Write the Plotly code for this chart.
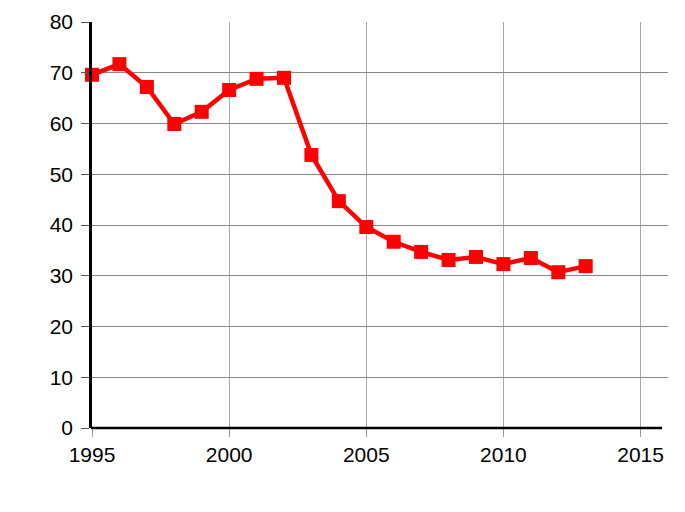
import plotly.graph_objects as go

years = list(range(1995, 2014))
values = [69.6, 71.7, 67.2, 59.9, 62.3, 66.6, 68.8, 69.0, 53.8, 44.7, 39.6, 36.7, 34.7, 33.1, 33.7, 32.3, 33.5, 30.7, 31.9]
x_ticks = [1995, 2000, 2005, 2010, 2015]
y_ticks = [0, 10, 20, 30, 40, 50, 60, 70, 80]

fig = go.Figure()
fig.add_trace(go.Scatter(
    x=years, y=values, mode="lines+markers",
    line=dict(color="#ff0000", width=4.5),
    marker=dict(symbol="square", size=14, color="#ff0000"),
    cliponaxis=False,
))
fig.update_layout(
    width=685, height=512,
    margin=dict(l=84, r=25, t=14, b=92),
    paper_bgcolor="white", plot_bgcolor="white",
    showlegend=False,
    font=dict(family="Liberation Sans, Arial, sans-serif", size=21, color="black"),
    shapes=[dict(type="line", xref="paper", yref="paper", x0=-0.002, x1=0.9896, y0=0, y1=0,
                 line=dict(color="black", width=2.5), layer="above")],
)
fig.update_xaxes(
    range=[1995, 2016], tickvals=x_ticks, ticktext=[str(v) for v in x_ticks],
    showgrid=True, gridcolor="#aaaaaa", gridwidth=1,
    showline=False, automargin=False,
    ticks="outside", ticklen=8, tickcolor="#999999", zeroline=False,
)
fig.update_yaxes(
    range=[0, 80], tickvals=y_ticks,
    showgrid=True, gridcolor="#888888", gridwidth=1,
    showline=True, linecolor="black", linewidth=2.5, automargin=False,
    ticks="outside", ticklen=8, tickcolor="#555555", zeroline=False,
    ticklabelstandoff=4,
)
fig.write_html("out.html")
